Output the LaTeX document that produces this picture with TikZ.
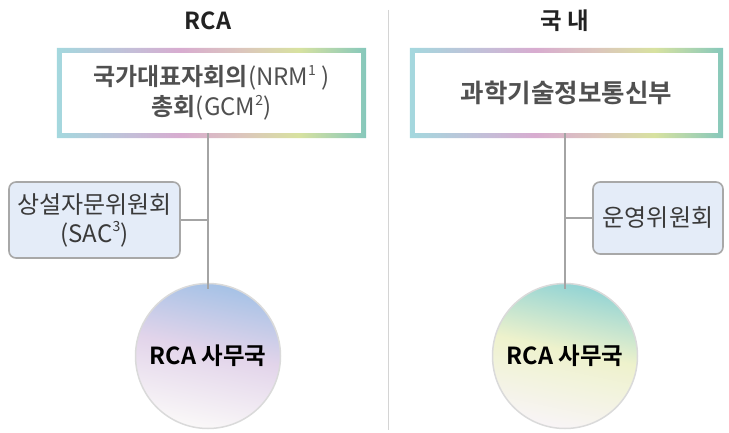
\documentclass[tikz,border=0pt]{standalone}
\usepackage{fontspec}
\setmainfont{Noto Sans CJK KR}[BoldFont={Noto Sans CJK KR Bold}]
\usetikzlibrary{calc,positioning}

\definecolor{titlegray}{HTML}{222222}
\definecolor{boxtext}{HTML}{505050}
\definecolor{subtext}{HTML}{3A3A3A}
\definecolor{subfill}{HTML}{E4ECF8}
\definecolor{subline}{HTML}{A8A8A8}
\definecolor{linkgray}{HTML}{A4A4A4}
\definecolor{divgray}{HTML}{D4D4D4}
\definecolor{balline}{HTML}{DADADA}
\definecolor{frameA}{HTML}{A4D8DE}
\definecolor{frameB}{HTML}{C4BED8}
\definecolor{frameC}{HTML}{D8ACD0}
\definecolor{frameD}{HTML}{DCC6BC}
\definecolor{frameE}{HTML}{D8E2A0}
\definecolor{frameF}{HTML}{86C8BC}
\definecolor{lballtop}{HTML}{A6C2E6}
\definecolor{lballmid}{HTML}{E2D4EA}
\definecolor{lballbot}{HTML}{FAF8F8}
\definecolor{rballtop}{HTML}{94D4D4}
\definecolor{rballmid}{HTML}{EEF2CC}
\definecolor{rballbot}{HTML}{F8F4F6}

\pgfdeclarehorizontalshading{frameshade}{100bp}{color(0bp)=(frameA); color(25bp)=(frameA);
  color(37bp)=(frameB); color(45bp)=(frameC); color(55bp)=(frameD); color(64bp)=(frameE);
  color(75bp)=(frameF); color(100bp)=(frameF)}
\pgfdeclareverticalshading{lballshade}{100bp}{color(0bp)=(lballbot); color(25bp)=(lballbot);
  color(52bp)=(lballmid); color(75bp)=(lballtop); color(100bp)=(lballtop)}
\pgfdeclareverticalshading{rballshade}{100bp}{color(0bp)=(rballbot); color(25bp)=(rballbot);
  color(52bp)=(rballmid); color(75bp)=(rballtop); color(100bp)=(rballtop)}

\newcommand{\supmark}[1]{\raisebox{0.42em}{\fontsize{14}{14}\selectfont #1}}

\begin{document}
\begin{tikzpicture}[
            x=1pt, y=-1pt,
            title/.style={ font=\fontsize{23.5}{27}\selectfont\bfseries, text=titlegray },
            mainbox/.style={ fill=white, minimum height=80pt, inner sep=0pt, align=center,
                font=\fontsize{24}{30}\selectfont, text=boxtext },
            subbox/.style={ draw=subline, line width=1.6pt, fill=subfill, rounded corners=7pt,
                inner sep=0pt, align=center, font=\fontsize{24}{29}\selectfont, text=subtext },
            ball/.style={ circle, minimum size=145pt, draw=balline, line width=1.5pt,
                shade, shading angle=-12, font=\fontsize{23.5}{27}\selectfont\bfseries, text=black },
            link/.style={ draw=linkgray, line width=1.8pt }
        ]
        \useasboundingbox (0,0) rectangle (729,433);

        % divider
        \draw[divgray, line width=1pt] (388,10) -- (388,430);

        % left: RCA
        \node[title] (lhead) at (208,21) {RCA};
        \node[mainbox, minimum width=299pt] (nrm) at (211.5,93)
            {{\bfseries 국가대표자회의}(NRM\supmark{1} )\\{\bfseries 총회}(GCM\supmark{2})};
        \shade[shading=frameshade, even odd rule]
            ($(nrm.north west)+(-5,-5)$) rectangle ($(nrm.south east)+(5,5)$)
            (nrm.north west) rectangle (nrm.south east);
        \node[subbox, minimum width=171pt, minimum height=76pt] (sac) at (94.5,220)
            {상설자문위원회\\(SAC\supmark{3})};
        \node[ball, shading=lballshade] (lofc) at (208,356) {RCA 사무국};
        \draw[link] (nrm.south -| lofc.north) -- ($(lofc.north)+(0,6)$);
        \draw[link] (sac.east) -- (sac.east -| lofc.north);

        % right: domestic
        \node[title] (rhead) at (565,21) {국 내};
        \node[mainbox, minimum width=303pt, font=\fontsize{25.5}{30}\selectfont] (msit) at (566.5,93)
            {\bfseries 과학기술정보통신부};
        \shade[shading=frameshade, even odd rule]
            ($(msit.north west)+(-5,-5)$) rectangle ($(msit.south east)+(5,5)$)
            (msit.north west) rectangle (msit.south east);
        \node[subbox, minimum width=130pt, minimum height=72pt] (opc) at (658,218)
            {운영위원회};
        \node[ball, shading=rballshade] (rofc) at (565,356) {RCA 사무국};
        \draw[link] (msit.south -| rofc.north) -- ($(rofc.north)+(0,6)$);
        \draw[link] (opc.west) -- (opc.west -| rofc.north);
    \end{tikzpicture}
\end{document}
